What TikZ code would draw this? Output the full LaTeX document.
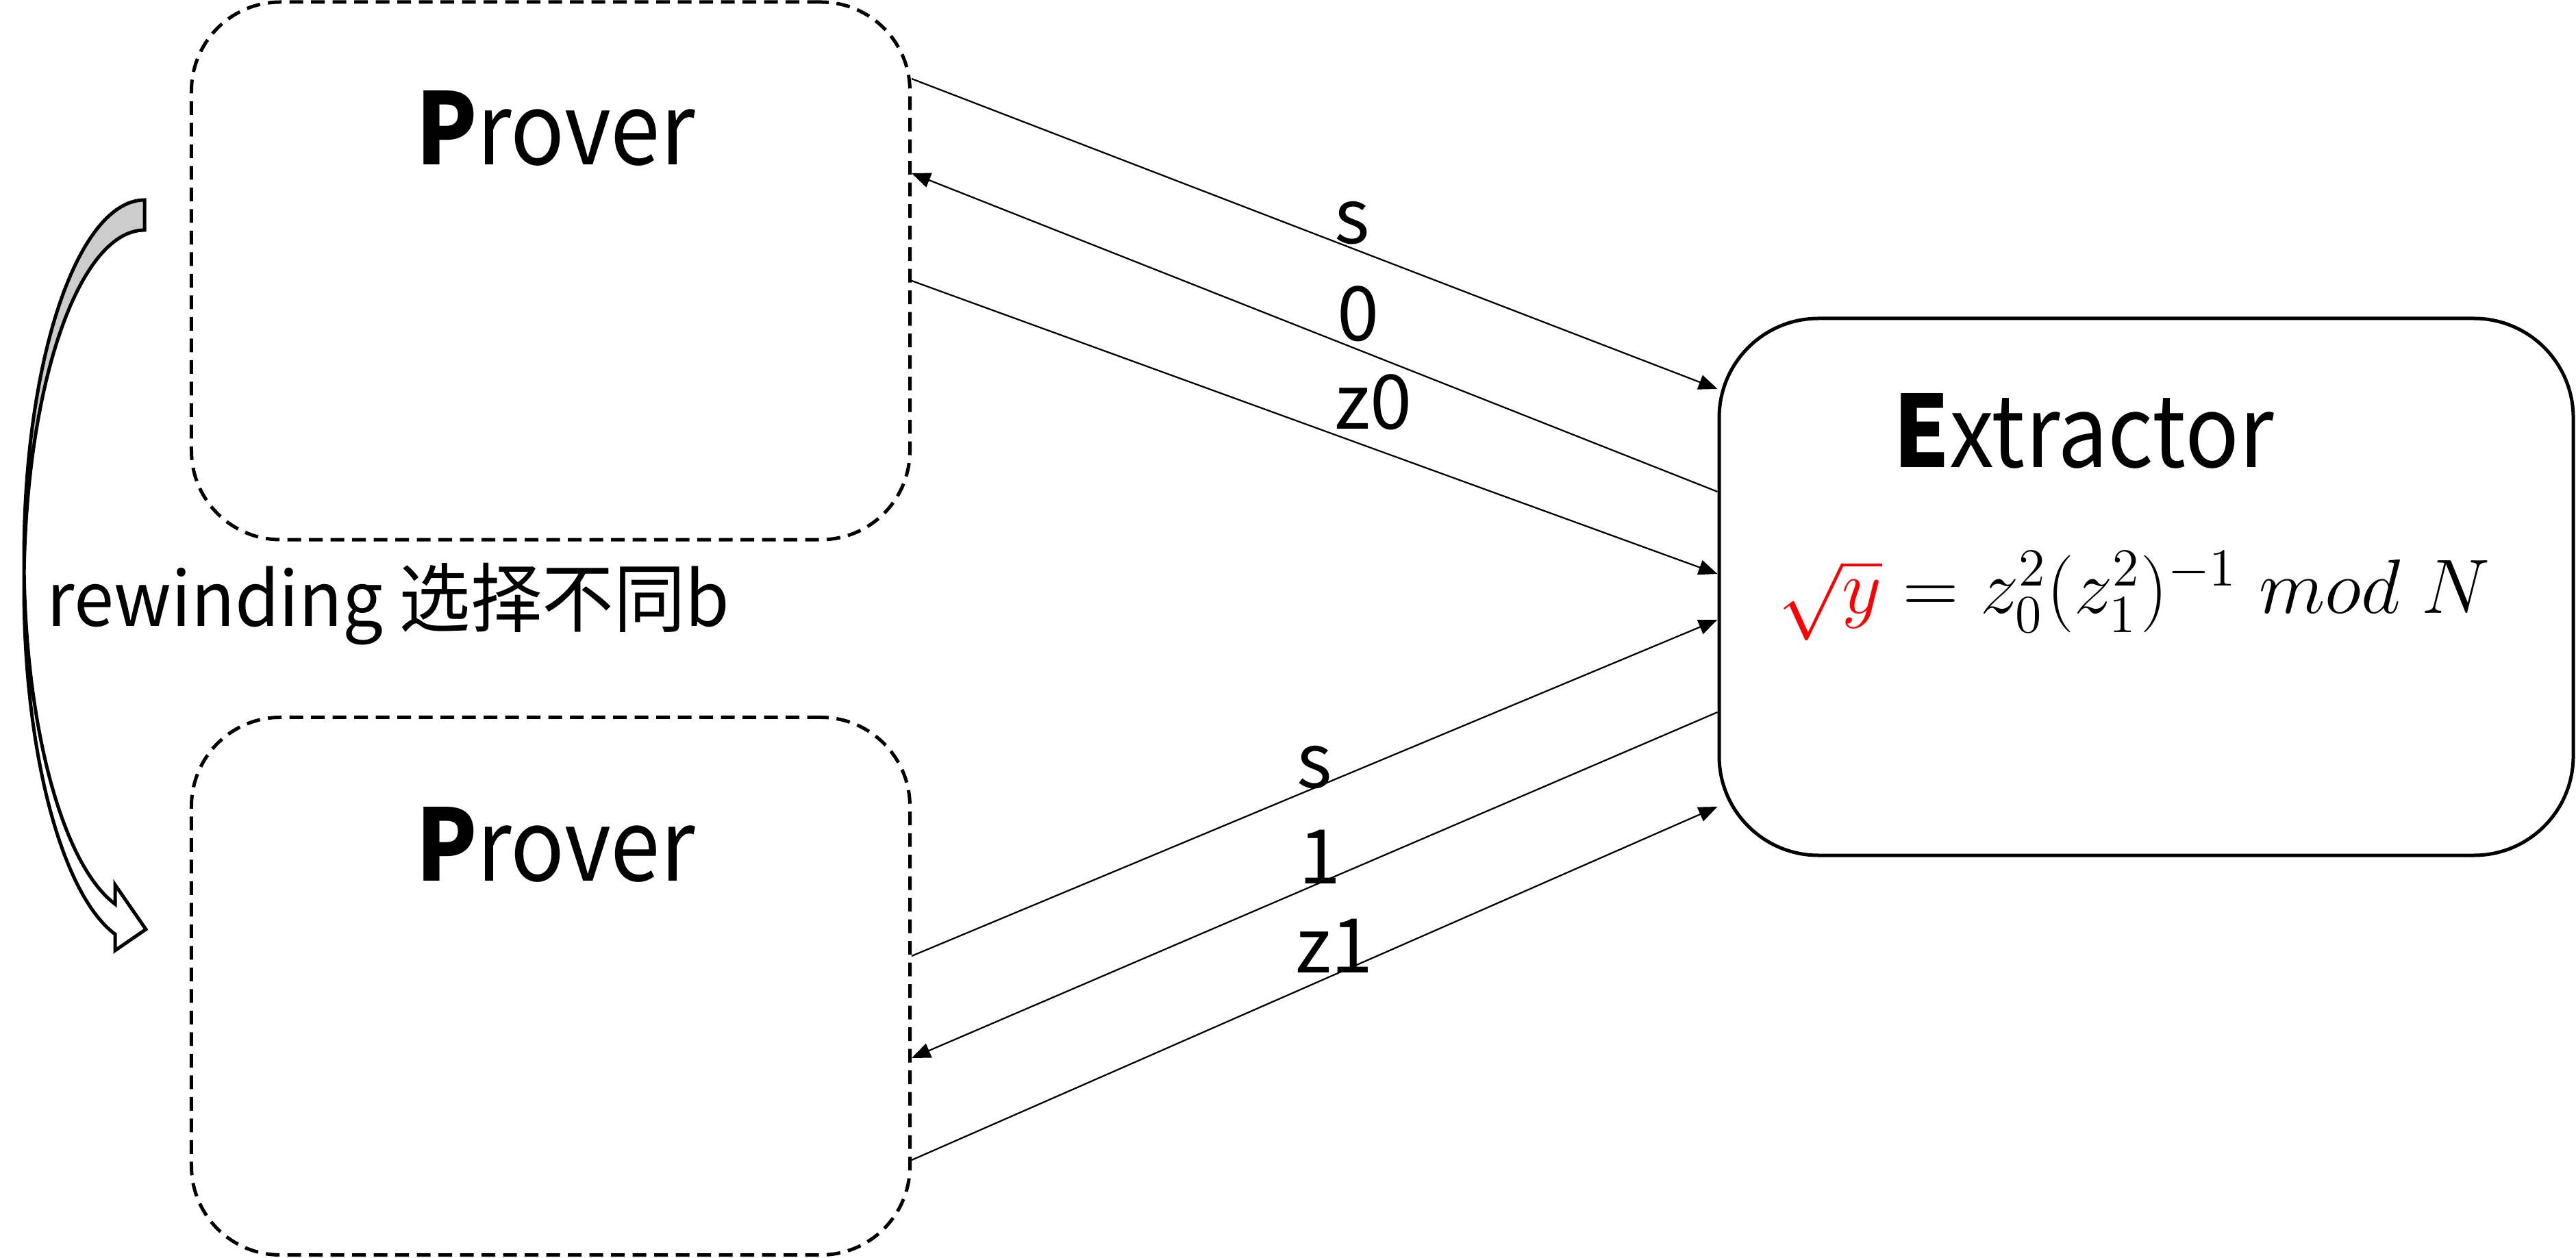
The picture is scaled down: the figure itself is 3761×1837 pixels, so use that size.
\documentclass[tikz,border=0pt]{standalone}
\usepackage{fontspec}
\setmainfont{Noto Sans CJK SC}
\newfontfamily\headfont[FakeStretch=0.9]{Noto Sans CJK SC}
\newfontfamily\notefont[FakeStretch=0.95]{Noto Sans CJK SC}
\usetikzlibrary{arrows.meta}
\begin{document}
\begin{tikzpicture}[x=0.2pt,y=-0.2pt,
  party/.style={draw, dash pattern=on 4pt off 2.3pt, line width=1pt,
    rounded corners=26pt, minimum width=209.8pt, minimum height=157pt, inner sep=0pt},
  extbox/.style={draw, line width=1pt, rounded corners=29pt,
    minimum width=249.4pt, minimum height=156.8pt, inner sep=0pt},
  headtext/.style={anchor=base, inner sep=0pt, font=\headfont\fontsize{29}{34}\selectfont},
  msg/.style={line width=0.45pt, -{Triangle[length=5.5pt,width=4.4pt]}},
  lbl/.style={anchor=base, inner sep=0pt, font=\fontsize{22}{26}\selectfont},
  bandline/.style={line width=1pt, line join=miter}
]
\useasboundingbox (0,0) rectangle (3761,1837);

% the two prover runs and the extractor
\node[party] (p1) at (804,395.5) {};
\node[party] (p2) at (804,1440) {};
\node[extbox] (ex) at (3133.5,857) {};

\node[headtext] (p1t) at (811,241) {\textbf{P}rover};
\node[headtext] (p2t) at (811,1286) {\textbf{P}rover};
\node[headtext] (ext) at (3042,683) {\textbf{E}xtractor};
\node[anchor=base, inner sep=0pt, font=\fontsize{22}{26}\selectfont] (eq) at (3116,896)
  {\resizebox{208pt}{!}{$\textcolor{red}{\sqrt{y}} = z_0^2(z_1^2)^{-1}\;mod\;N$}};

% first run: b = 0
\draw[msg] (p1.east |- 0,115) -- (ex.west |- 0,568);
\draw[msg] (ex.west |- 0,718) -- (p1.east |- 0,253);
\draw[msg] (p1.east |- 0,410) -- (ex.west |- 0,838);
\node[lbl] (ls0) at (1974,356) {s};
\node[lbl] (lb0) at (1983,498) {0};
\node[lbl] (lz0) at (2005,627) {z0};

% second run: b = 1
\draw[msg] (p2.east |- 0,1396) -- (ex.west |- 0,905);
\draw[msg] (ex.west |- 0,1040) -- (p2.east |- 0,1545);
\draw[msg] (p2.east |- 0,1694) -- (ex.west |- 0,1178);
\node[lbl] (ls1) at (1919,1150) {s};
\node[lbl] (lb1) at (1927,1290) {1};
\node[lbl] (lz1) at (1948,1420) {z1};

% curved rewinding arrow: shaded back face on top, white front face with head below
\draw[bandline, fill=gray!40]
  plot[domain=90:182.4, samples=60] ({211+176*cos(\x)},{814-522*sin(\x)})
  -- plot[domain=177.6:90, samples=60] ({211+176*cos(\x)},{858-522*sin(\x)})
  -- cycle;
\draw[bandline, fill=white]
  plot[domain=182.4:255.86, samples=60] ({211+176*cos(\x)},{814-522*sin(\x)})
  -- (168,1292) -- (213,1357) -- (168,1388)
  -- plot[domain=255.86:177.6, samples=60] ({211+176*cos(\x)},{858-522*sin(\x)})
  -- cycle;

\node[anchor=base west, inner sep=0pt, font=\notefont\fontsize{22}{26}\selectfont] (rw) at (68,914)
  {rewinding 选择不同b};
\end{tikzpicture}
\end{document}
